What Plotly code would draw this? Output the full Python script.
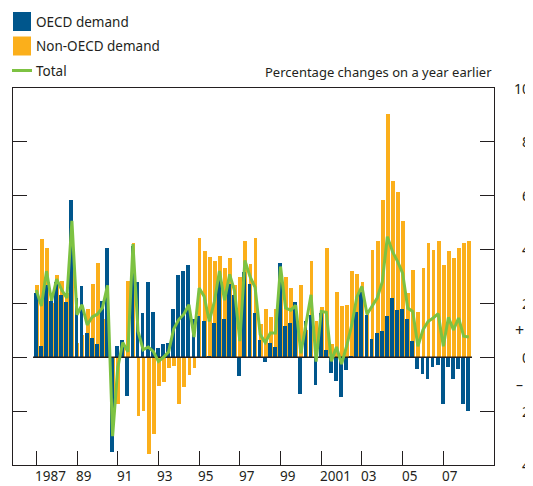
import plotly.graph_objects as go

# quarterly data, 1987 Q1 to 2008 Q2, % change on a year earlier
oecd = [2.37, 0.42, 2.67, 2.1, 2.8, 2.3, 2.07, 5.85, 2.22, 2.63, 0.89, 0.7,
        0.48, 2.1, 4.04, -3.5, 0.41, 0.63, -1.44, 4.15, 2.81, 1.63, 2.81, 1.7,
        0.33, 0.48, 0.52, 1.81, 3.07, 3.22, 3.41, 1.41, 1.52, 1.33, 0.04, 1.26,
        2.9, 1.41, 2.74, 2.3, -0.7, 3.15, 2.74, 1.63, 0.63, -0.19, 0.52, 0.37,
        3.52, 1.15, 1.26, 2.07, -1.38, 1.33, 1.56, -1.04, 1.63, 0.26, -0.58, -0.87,
        -1.47, -0.47, 0.05, 1.7, 2.44, 1.58, 0.67, 0.89, 0.96, 1.52, 2.19, 1.74,
        1.78, 1.41, 0.59, -0.44, -0.63, -0.81, -0.37, -0.3, -1.74, -0.37, -0.81, -0.44,
        -1.74, -2.0]
non_oecd = [2.67, 4.4, 4.04, 2.0, 3.07, 2.85, 2.37, 3.8, 0.52, 0.84, 1.81, 2.74,
            3.52, 1.41, 0.43, -2.0, -1.73, 0.42, 2.85, 4.26, -2.18, -1.98, -3.6, -2.84,
            -1.05, -0.9, -0.41, -0.33, -1.72, -1.12, -0.65, -0.39, 4.44, 3.96, 3.74, 3.59,
            3.78, 3.33, 3.67, 2.67, 3.0, 4.33, 3.48, 4.44, 1.22, 1.78, 1.48, 1.81,
            3.1, 3.0, 2.59, 1.7, 2.7, 1.0, 3.59, 1.33, 1.85, 4.07, 0.48, 2.44,
            1.89, 1.96, 3.19, 3.11, 2.81, 1.62, 4.0, 4.33, 5.85, 9.04, 6.56, 6.15,
            5.07, 2.37, 3.26, 1.7, 3.33, 4.26, 4.0, 4.33, 3.44, 3.96, 3.67, 4.07,
            4.26, 4.33]
total = [2.5, 1.9, 3.2, 2.1, 2.9, 2.5, 2.2, 5.07, 1.58, 1.95, 1.2, 1.5,
         1.6, 1.84, 2.67, -2.93, -0.4, 0.55, 0.2, 4.2, 0.96, 0.28, 0.38, 0.22,
         -0.15, 0.0, 0.2, 1.05, 1.4, 1.6, 1.95, 0.75, 2.57, 2.26, 1.33, 2.07,
         3.2, 2.12, 3.08, 2.44, 0.6, 3.6, 3.0, 2.6, 0.85, 0.55, 0.9, 0.9,
         3.37, 1.83, 1.75, 1.93, 0.15, 1.2, 2.32, -0.16, 1.7, 1.67, -0.15, 0.38,
         -0.25, 0.42, 1.2, 2.24, 2.63, 1.6, 1.9, 2.2, 2.8, 4.48, 3.93, 3.56,
         3.12, 1.83, 1.7, 0.41, 1.02, 1.33, 1.46, 1.62, 0.41, 1.48, 1.02, 1.46,
         0.78, 0.75]

first_year = 1987
year_ticks = [1987, 1989, 1991, 1993, 1995, 1997, 1999, 2001, 2003, 2005, 2007]
year_labels = ["1987", "89", "91", "93", "95", "97", "99", "2001", "03", "05", "07"]
y_ticks = [-4, -2, 0, 2, 4, 6, 8, 10]
y_labels = ["4", "2", "0", "2", "4", "6", "8", "10"]

BLUE = "#00568C"
ORANGE = "#FBAF1B"
GREEN = "#7DC242"
INK = "#231F20"
FONT = "Noto Sans"

x = [first_year + i / 4 for i in range(len(total))]

# page is shown with the default 8px body margin, so work in page pixels
OFF = 8
W, H = 533 - OFF, 486 - OFF
L, R, T, B = 13, 494, 88, 465   # plot box in page pixels


def px(v):
    return (v - L) / (R - L)


def py(v):
    return (B - v) / (B - T)


fig = go.Figure()
fig.add_trace(go.Bar(x=x, y=non_oecd, width=0.185, offset=-0.07,
                     marker=dict(color=ORANGE, line_width=0), name="Non-OECD demand"))
fig.add_trace(go.Bar(x=x, y=oecd, width=0.185, offset=-0.12,
                     marker=dict(color=BLUE, line_width=0), name="OECD demand"))
# zero line only across the data span
fig.add_trace(go.Scatter(x=[x[0] - 0.16, x[-1] + 0.16], y=[0, 0], mode="lines",
                         line=dict(color=INK, width=1.5), hoverinfo="skip"))
fig.add_trace(go.Scatter(x=x, y=total, mode="lines", name="Total",
                         line=dict(color=GREEN, width=3)))

ann = []
for v, t in zip(y_ticks, y_labels):
    ann.append(dict(x=px(532), xref="paper", xanchor="right", y=v, yref="y",
                    yanchor="middle", text=t, showarrow=False, font=dict(size=14)))
ann.append(dict(x=px(526), xref="paper", xanchor="right", y=1, yref="y",
                yanchor="middle", text="+", showarrow=False, font=dict(size=16)))
ann.append(dict(x=px(525), xref="paper", xanchor="right", y=-1, yref="y",
                yanchor="middle", text="–", showarrow=False, font=dict(size=14)))
for v, t in zip(year_ticks, year_labels):
    ann.append(dict(x=v, xref="x", xshift=-2, xanchor="left", y=py(485.5), yref="paper",
                    yanchor="bottom", borderpad=0, text=t, showarrow=False,
                    font=dict(size=13.5)))

# legend drawn by hand
legend_rows = [("OECD demand", BLUE, 21.5), ("Non-OECD demand", ORANGE, 46)]
shapes = []
for name, col, yc in legend_rows:
    shapes.append(dict(type="rect", xref="paper", yref="paper",
                       x0=px(13), x1=px(31), y0=py(yc - 9.5), y1=py(yc + 9.5),
                       fillcolor=col, line_width=0))
    ann.append(dict(x=px(34), xref="paper", xanchor="left", y=py(yc), yref="paper",
                    yanchor="middle", text=name, showarrow=False, font=dict(size=13.5)))
shapes.append(dict(type="line", xref="paper", yref="paper",
                   x0=px(12), x1=px(32), y0=py(70.5), y1=py(70.5),
                   line=dict(color=GREEN, width=3)))
ann.append(dict(x=px(34), xref="paper", xanchor="left", y=py(70.5), yref="paper",
                yanchor="middle", text="Total", showarrow=False, font=dict(size=13.5)))
ann.append(dict(x=px(494), xref="paper", xanchor="right", y=py(71.5), yref="paper",
                yanchor="middle", text="Percentage changes on a year earlier",
                showarrow=False, font=dict(size=13)))

fig.update_layout(
    width=W, height=H,
    margin=dict(l=L - OFF, r=W - (R - OFF), t=T - OFF, b=H - (B - OFF), pad=0),
    paper_bgcolor="white", plot_bgcolor="white",
    barmode="overlay", bargap=0, showlegend=False,
    font=dict(family=FONT, size=14, color=INK),
    annotations=ann, shapes=shapes,
    xaxis=dict(range=[1985.855, 2009.49], tickvals=year_ticks, showticklabels=False,
               ticks="inside", ticklen=14, tickwidth=1, tickcolor=INK,
               showline=True, linecolor=INK, linewidth=1.2, mirror=True,
               showgrid=False, zeroline=False),
    yaxis=dict(range=[-4, 10], tickvals=y_ticks, showticklabels=False,
               ticks="inside", ticklen=14, tickwidth=1, tickcolor=INK,
               showline=True, linecolor=INK, linewidth=1.2, mirror="ticks",
               showgrid=False, zeroline=False),
)

fig.write_html("out.html")
